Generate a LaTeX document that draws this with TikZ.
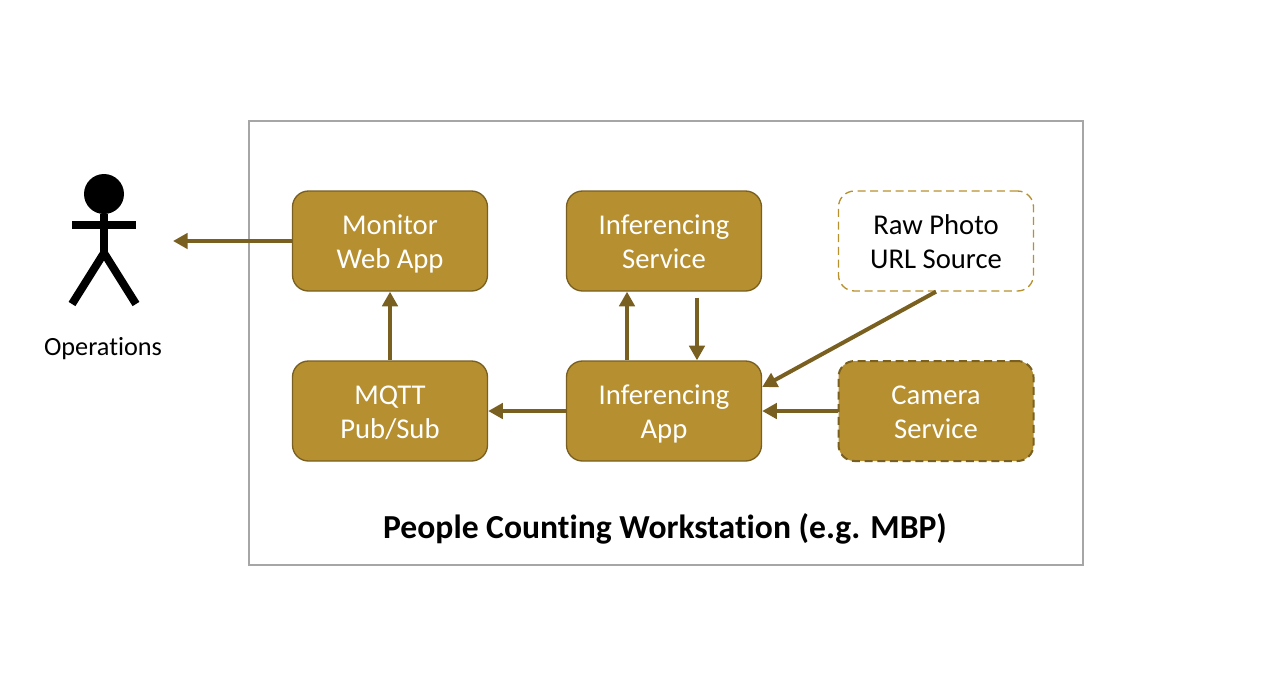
\documentclass[tikz,border=0pt]{standalone}
\usepackage{fontspec}
\setmainfont[Ligatures=NoCommon]{Carlito}
\usetikzlibrary{arrows.meta,positioning}
\definecolor{boxfill}{HTML}{B68F30}
\definecolor{boxline}{HTML}{7A6020}
\definecolor{dashline}{HTML}{B8912F}
\definecolor{frameline}{HTML}{A6A6A6}
\def\boxlines#1#2{\rule{0pt}{23pt}#1\\\strut #2}
\tikzset{
	appbox/.style={draw=boxline, fill=boxfill, line width=1pt, rounded corners=12pt, minimum width=146.25pt, minimum height=75pt, inner sep=0pt, align=center, text=white, font=\fontsize{21.5}{25.5}\selectfont},
	dashbox/.style={appbox, dash pattern=on 6pt off 3.5pt},
	link/.style={draw=boxline, line width=3pt, -{Triangle[length=11pt,width=11.5pt]}},
}
\begin{document}
\begin{tikzpicture}[x=0.75pt,y=-0.75pt]
	%%%%% frame %%%%%
	\useasboundingbox (0,0) rectangle (1268,690);
	\draw[frameline, line width=1pt] (249,121) rectangle (1083,565);
	
	\node[appbox] (monitor) at (390,241) {\boxlines{Monitor}{Web App}};
	\node[appbox] (service) at (664,241) {\boxlines{Inferencing}{Service}};
	\node[dashbox, draw=dashline, fill=white, text=black] (source) at (936,241) {\boxlines{Raw Photo}{URL Source}};
	\node[appbox] (mqtt) at (390,411) {\boxlines{MQTT}{Pub/Sub}};
	\node[appbox] (app) at (664,411) {\boxlines{Inferencing}{App}};
	\node[dashbox, line width=1.5pt] (camera) at (936,411) {\boxlines{Camera}{Service}};
	\node[font=\fontsize{25.2}{28}\selectfont\bfseries] (title) at (665,529) {People Counting Workstation (e.g. MBP)};
	
	%%%%% person %%%%%
	\node[circle, fill=black, minimum size=30pt, inner sep=0pt] (head) at (104,194) {};
	\coordinate (hip) at (104,253);
	\coordinate (armL) at (72,225);
	\coordinate (armR) at (136,225);
	\coordinate (footL) at (72,304);
	\coordinate (footR) at (136,304);
	\coordinate (arrowEnd) at (173,241);
	\draw[line width=6pt] (head) -- (hip);
	\draw[line width=6pt] (armL) -- (armR);
	\draw[line width=6pt] (footL) -- (hip) -- (footR);
	\node[font=\fontsize{19.7}{22}\selectfont] (ops) at (103,349) {Operations};
	
	%%%%% arrows %%%%%
	\draw[link] (monitor.west) -- (arrowEnd);
	\draw[link] (mqtt.north) -- (monitor.south);
	\draw[link] (app.west) -- (mqtt.east);
	\draw[link] ([xshift=-27.75pt]app.north) -- ([xshift=-27.75pt]service.south);
	\draw[link] ([xshift=24.75pt,yshift=-4.5pt]service.south) -- ([xshift=24.75pt]app.north);
	\draw[link] (camera.west) -- (app.east);
	\draw[link] (source.south) -- ([yshift=18pt]app.east);
\end{tikzpicture}
\end{document}
